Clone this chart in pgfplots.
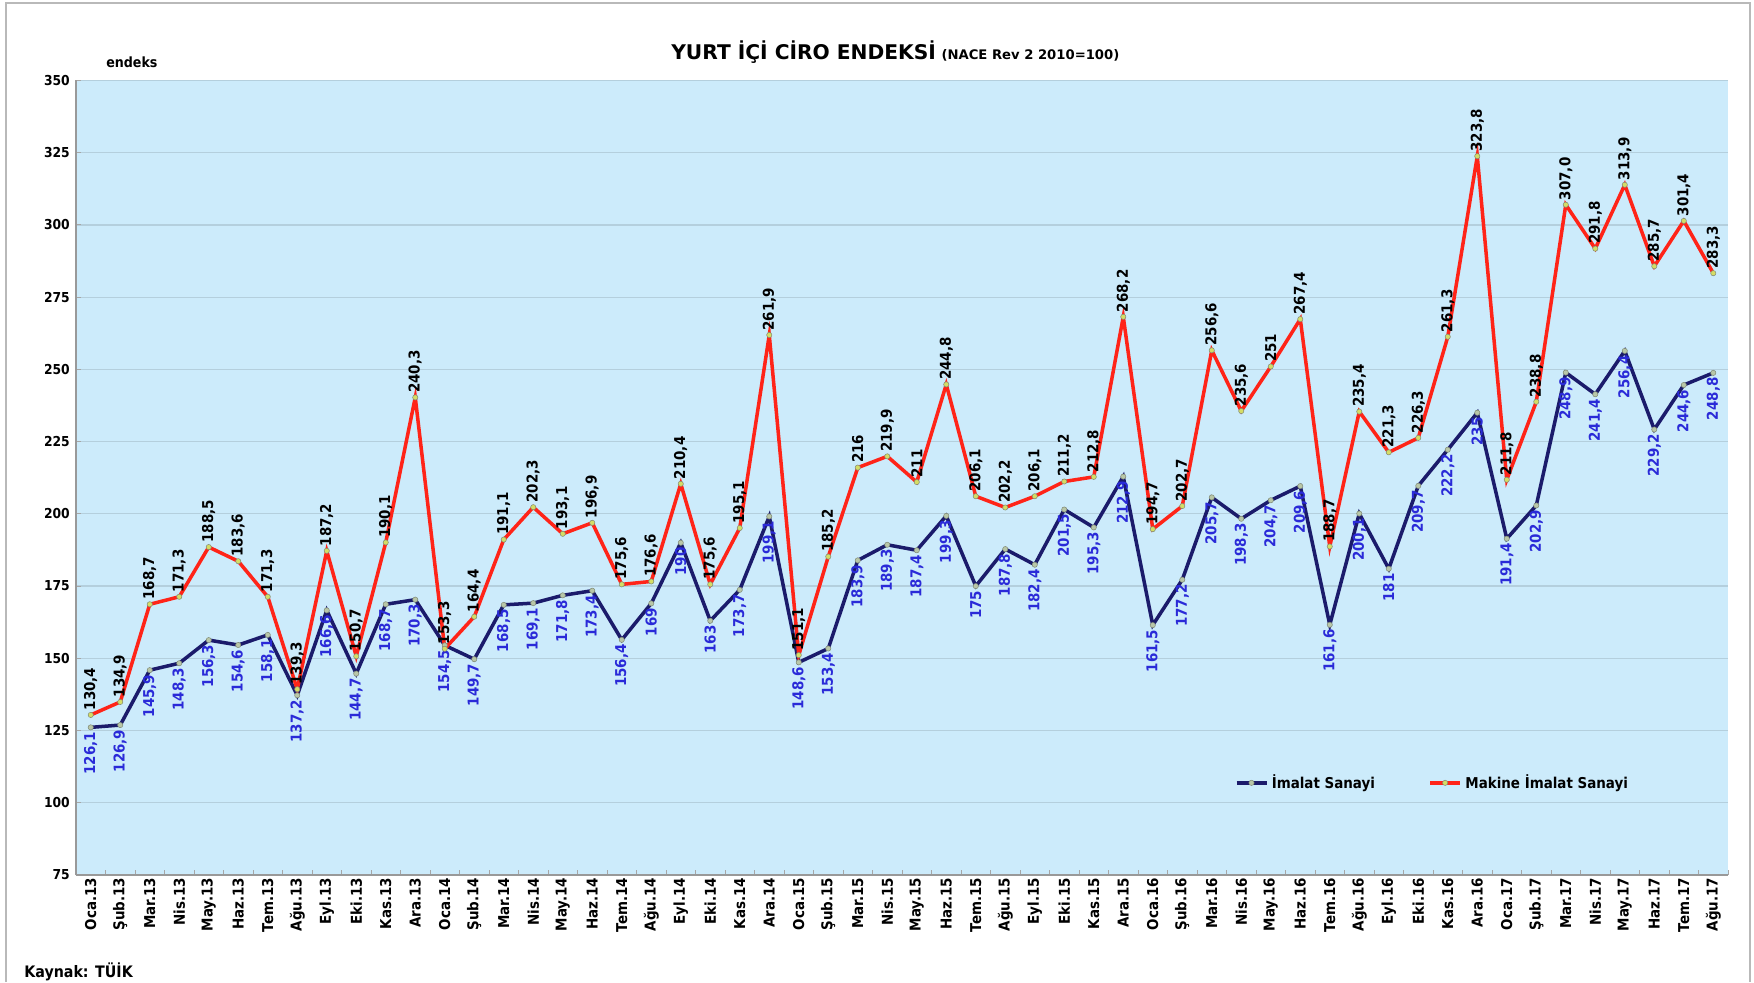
\documentclass[border=0pt]{standalone}
\usepackage{pgfplots}
\pgfplotsset{compat=1.18}
\usepackage{pgfplotstable}
\usepackage{fontspec}
\setmainfont{DejaVu Sans}
\newfontfamily\cond{DejaVu Sans Condensed}
\definecolor{bgblue}{HTML}{CCEBFB}
\definecolor{gridc}{HTML}{B4CFDD}
\definecolor{navy}{HTML}{1B1B6B}
\definecolor{redl}{HTML}{FF2418}
\definecolor{lblblue}{HTML}{2A2AD8}
\definecolor{mkfill}{HTML}{B9C7A8}

\pgfplotstableread{
x a al b bl
0 126.1 126,1 130.4 130,4
1 126.9 126,9 134.9 134,9
2 145.9 145,9 168.7 168,7
3 148.3 148,3 171.3 171,3
4 156.3 156,3 188.5 188,5
5 154.6 154,6 183.6 183,6
6 158.1 158,1 171.3 171,3
7 137.2 137,2 139.3 139,3
8 166.6 166,6 187.2 187,2
9 144.7 144,7 150.7 150,7
10 168.7 168,7 190.1 190,1
11 170.3 170,3 240.3 240,3
12 154.5 154,5 153.3 153,3
13 149.7 149,7 164.4 164,4
14 168.5 168,5 191.1 191,1
15 169.1 169,1 202.3 202,3
16 171.8 171,8 193.1 193,1
17 173.4 173,4 196.9 196,9
18 156.4 156,4 175.6 175,6
19 169 169 176.6 176,6
20 190 190 210.4 210,4
21 163 163 175.6 175,6
22 173.7 173,7 195.1 195,1
23 199.1 199,1 261.9 261,9
24 148.6 148,6 151.1 151,1
25 153.4 153,4 185.2 185,2
26 183.9 183,9 216 216
27 189.3 189,3 219.9 219,9
28 187.4 187,4 211 211
29 199.3 199,3 244.8 244,8
30 175 175 206.1 206,1
31 187.8 187,8 202.2 202,2
32 182.4 182,4 206.1 206,1
33 201.5 201,5 211.2 211,2
34 195.3 195,3 212.8 212,8
35 212.9 212,9 268.2 268,2
36 161.5 161,5 194.7 194,7
37 177.2 177,2 202.7 202,7
38 205.7 205,7 256.6 256,6
39 198.3 198,3 235.6 235,6
40 204.7 204,7 251 251
41 209.6 209,6 267.4 267,4
42 161.6 161,6 188.7 188,7
43 200.1 200,1 235.4 235,4
44 181 181 221.3 221,3
45 209.7 209,7 226.3 226,3
46 222.2 222,2 261.3 261,3
47 235 235 323.8 323,8
48 191.4 191,4 211.8 211,8
49 202.9 202,9 238.8 238,8
50 248.9 248,9 307.0 307,0
51 241.4 241,4 291.8 291,8
52 256.4 256,4 313.9 313,9
53 229.2 229,2 285.7 285,7
54 244.6 244,6 301.4 301,4
55 248.8 248,8 283.3 283,3
}\data

\begin{document}
\begin{tikzpicture}
\begin{scope}[x=0.2mm,y=0.2mm]
\path[use as bounding box] (0,0) rectangle (1754,982);
\fill[white] (0,0) rectangle (1754,982);
\draw[gray!55, line width=0.6pt] (6,0) -- (6,979) -- (1750,979) -- (1750,0);
\end{scope}
\begin{axis}[
  at={(15.2mm,21.4mm)}, anchor=south west,
  scale only axis, width=330.4mm, height=158.9mm,
  xmin=-0.5, xmax=55.5, ymin=75, ymax=350,
  ytick={75,100,...,350},
  xtick={0,...,55},
  minor xtick={-0.5,0.5,...,55.5},
  xticklabels={Oca.13,Şub.13,Mar.13,Nis.13,May.13,Haz.13,Tem.13,Ağu.13,Eyl.13,Eki.13,Kas.13,Ara.13,
               Oca.14,Şub.14,Mar.14,Nis.14,May.14,Haz.14,Tem.14,Ağu.14,Eyl.14,Eki.14,Kas.14,Ara.14,
               Oca.15,Şub.15,Mar.15,Nis.15,May.15,Haz.15,Tem.15,Ağu.15,Eyl.15,Eki.15,Kas.15,Ara.15,
               Oca.16,Şub.16,Mar.16,Nis.16,May.16,Haz.16,Tem.16,Ağu.16,Eyl.16,Eki.16,Kas.16,Ara.16,
               Oca.17,Şub.17,Mar.17,Nis.17,May.17,Haz.17,Tem.17,Ağu.17},
  xticklabel style={rotate=90, anchor=east, font=\cond\bfseries\fontsize{8.5}{9}\selectfont, inner sep=1.5pt},
  yticklabel style={font=\cond\bfseries\fontsize{7.8}{9}\selectfont},
  /pgf/number format/assume math mode=true,
  major x tick style={draw=none},
  minor tick length=3pt,
  major tick length=3pt,
  tick style={gray!70, line width=0.5pt},
  axis x line*=bottom, axis y line*=left,
  axis line style={gray!80, line width=0.8pt, -},
  axis background/.style={fill=bgblue},
  ymajorgrids, grid style={gridc, line width=0.7pt},
  legend style={at={(0.698,0.116)}, anchor=west, draw=none, fill=none,
    font=\cond\bfseries\fontsize{8.5}{10}\selectfont, legend columns=2,
    /tikz/every even column/.append style={column sep=10mm}},
  legend image post style={mark repeat=2, mark phase=1},
  clip=false,
  point meta=explicit symbolic,
]
\addplot[navy, line width=2pt, mark=*, mark size=1.5pt, mark options={fill=mkfill, draw=mkfill!70!black, line width=0.3pt},
  nodes near coords, every node near coord/.append style={rotate=90, anchor=east, font=\cond\bfseries\fontsize{8.5}{9}\selectfont, text=lblblue, inner sep=2.5pt}]
  table[x=x, y=a, meta=al] {\data};
\addlegendentry{İmalat Sanayi}
\addplot[redl, line width=2pt, mark=*, mark size=1.5pt, mark options={fill=mkfill!60!yellow, draw=mkfill!70!black, line width=0.3pt},
  nodes near coords, every node near coord/.append style={rotate=90, anchor=west, font=\cond\bfseries\fontsize{8.5}{9}\selectfont, text=black, inner sep=2.5pt}]
  table[x=x, y=b, meta=bl] {\data};
\addlegendentry{Makine İmalat Sanayi}
\end{axis}
\begin{scope}[x=0.2mm,y=0.2mm]
\node[anchor=base west, inner sep=0pt] at (671,922) {{\bfseries\fontsize{11.5}{13}\selectfont YURT İÇİ CİRO ENDEKSİ} {\bfseries\fontsize{7.5}{8}\selectfont(NACE Rev 2 2010=100)}};
\node[anchor=base west, inner sep=0pt, font=\cond\bfseries\fontsize{8}{9}\selectfont] at (106,914) {endeks};
\node[anchor=base west, inner sep=0pt, font=\cond\bfseries\fontsize{9}{10}\selectfont] at (24,5) {Kaynak: TÜİK};
\end{scope}
\end{tikzpicture}
\end{document}
